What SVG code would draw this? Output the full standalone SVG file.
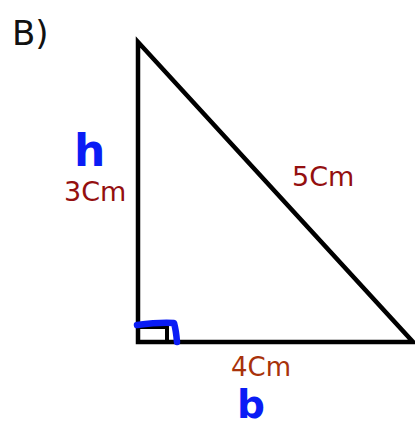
<svg xmlns="http://www.w3.org/2000/svg" width="415" height="428" viewBox="0 0 415 428">
<style>
.lbl{font-family:"DejaVu Sans",sans-serif;}
.red{fill:#940f0f;font-size:27px;}
.blue{fill:#0a1cf5;font-weight:bold;font-family:"DejaVu Sans",sans-serif;}
</style>
<rect width="415" height="428" fill="#fff"/>
<text class="lbl" x="12" y="45" font-size="34" fill="#111">B)</text>
<g id="triangle">
<path d="M138,42 L138,342 L413,342 Z" fill="none" stroke="#000" stroke-width="4.5" stroke-linejoin="miter"/>
</g>
<g id="right-angle">
<path d="M138,327 L167,327 L167,342" fill="none" stroke="#000" stroke-width="4"/>
<path d="M137,325 Q160,322 174,323 Q176,330 177,342" fill="none" stroke="#0a1cf5" stroke-width="6.5" stroke-linecap="round" stroke-linejoin="round"/>
</g>
<text class="blue" x="74" y="166" font-size="44">h</text>
<text class="lbl red" x="64" y="201">3Cm</text>
<text class="lbl red" x="292" y="186">5Cm</text>
<text class="lbl red" x="231" y="376" style="fill:#a8320a;font-size:26px">4Cm</text>
<text class="blue" x="237" y="418" font-size="39">b</text>
</svg>
